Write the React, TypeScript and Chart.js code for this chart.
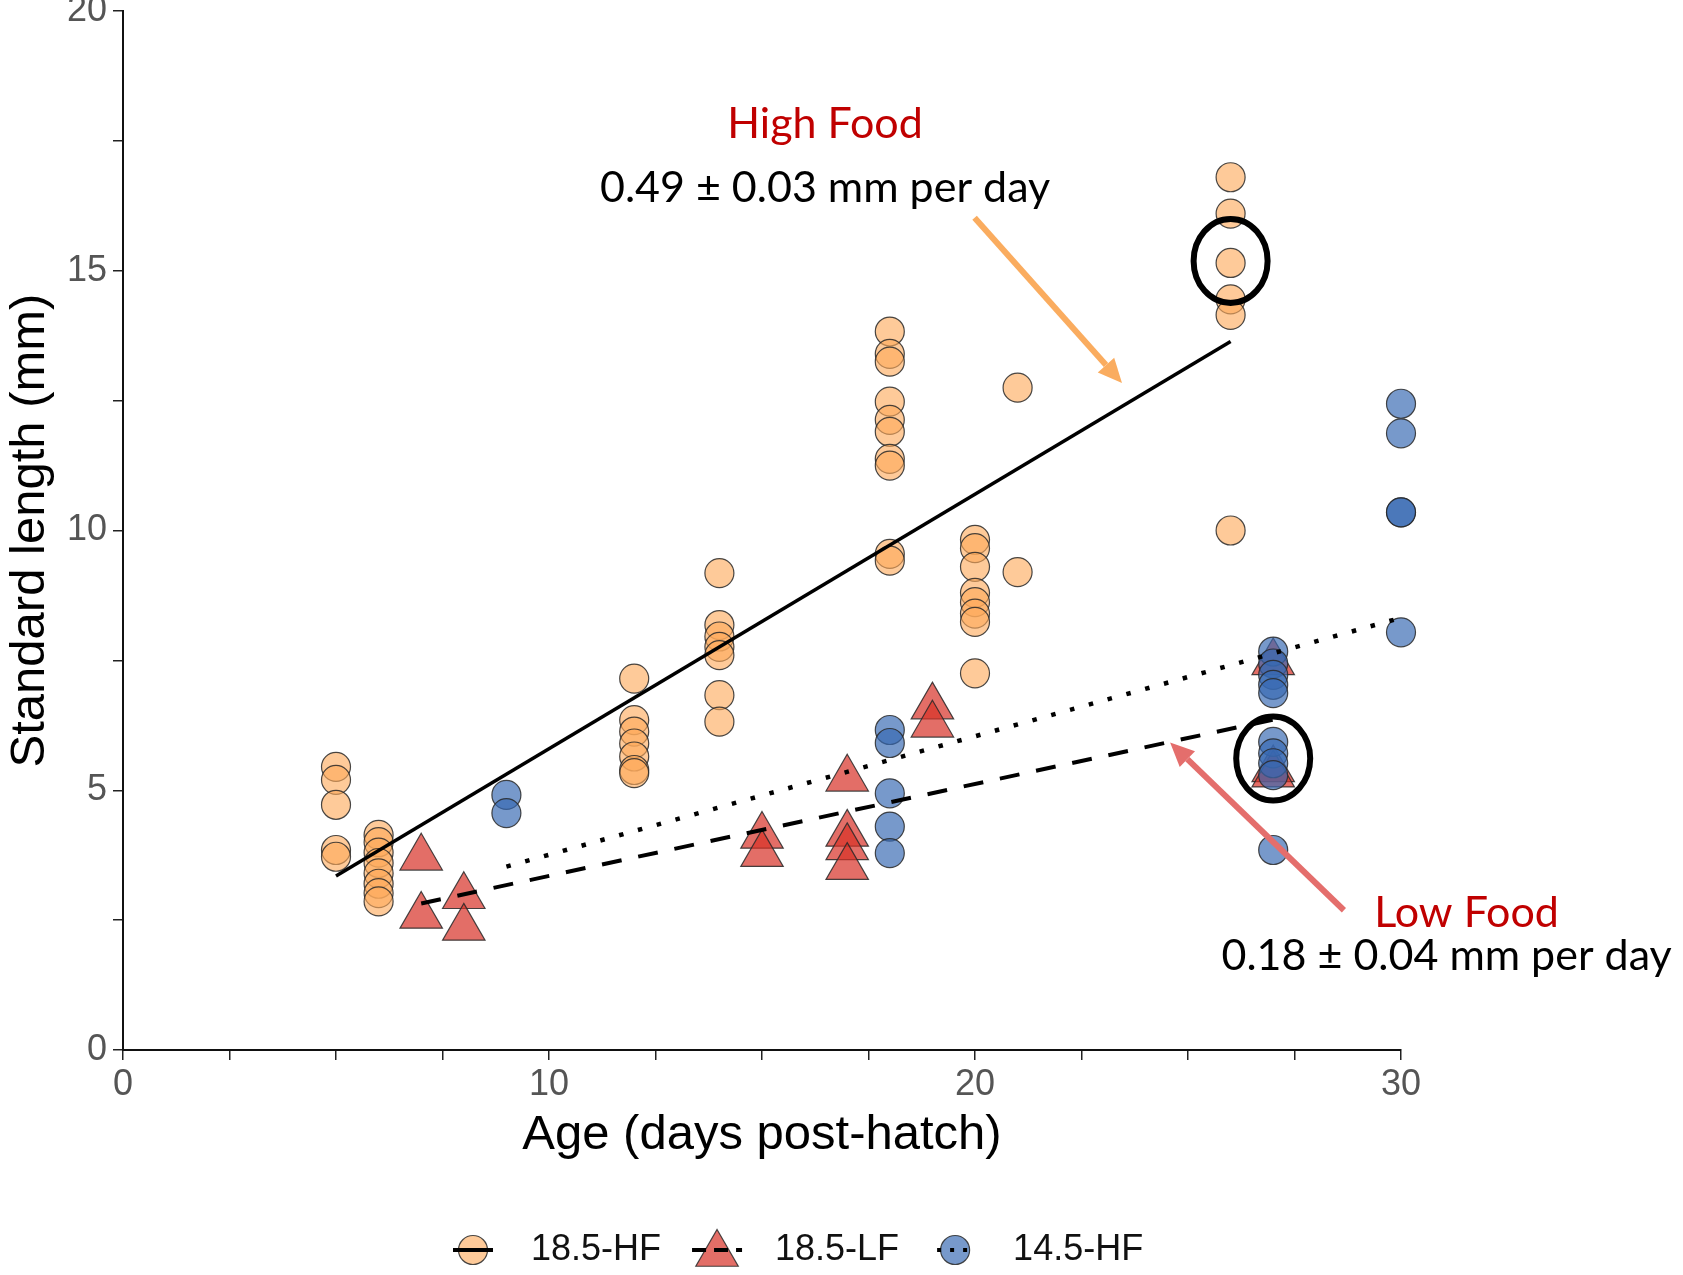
import { useEffect, useRef } from "react";
import { Chart, registerables } from "chart.js";

Chart.register(...registerables);

// Standard length (mm) of each fish, grouped by age (days post-hatch)
const hf185Ages = [5, 6, 12, 14, 18, 20, 21, 26];
const hf185Lengths = [
  [5.45, 5.2, 4.72, 3.85, 3.72],
  [4.14, 4.0, 3.8, 3.6, 3.4, 3.2, 3.02, 2.86],
  [7.15, 6.35, 6.13, 5.9, 5.65, 5.39, 5.33],
  [9.18, 8.18, 7.96, 7.76, 7.6, 6.83, 6.32],
  [13.83, 13.4, 13.25, 12.48, 12.13, 11.9, 11.38, 11.25, 9.55, 9.42],
  [9.82, 9.66, 9.3, 8.8, 8.62, 8.4, 8.24, 7.25],
  [12.75, 9.2],
  [16.8, 16.1, 15.15, 14.45, 14.15, 10.0],
];

const lf185Ages = [7, 8, 15, 17, 19, 27];
const lf185Lengths = [
  [3.7, 2.58],
  [2.96, 2.35],
  [4.12, 3.77],
  [5.22, 4.16, 3.9, 3.52],
  [6.61, 6.26],
  [7.46, 5.4, 5.3],
];

const hf145Ages = [9, 18, 27, 30];
const hf145Lengths = [
  [4.91, 4.56],
  [6.16, 5.91, 4.94, 4.3, 3.79],
  [7.67, 7.44, 7.22, 7.03, 6.87, 5.93, 5.71, 5.52, 5.29, 3.85],
  [12.44, 11.87, 10.35, 10.35, 8.04],
];

// Linear growth fits (end points)
const hf185FitAges = [5, 26];
const hf185FitLengths = [3.35, 13.64];
const lf185FitAges = [7, 27];
const lf185FitLengths = [2.82, 6.36];
const hf145FitAges = [9, 30];
const hf145FitLengths = [3.53, 8.32];

const seriesLabels = ["18.5-HF", "18.5-LF", "14.5-HF"];
const xTickLabels = [0, 10, 20, 30];
const yTickLabels = [0, 5, 10, 15, 20];

// Call-out texts and their anchors, in (age, length) units
const highFoodTitle = "High Food";
const highFoodRate = "0.49 ± 0.03 mm per day";
const lowFoodTitle = "Low Food";
const lowFoodRate = "0.18 ± 0.04 mm per day";
const highFoodTextAt = [16.48, 17.56, 16.33]; // x centre, title baseline, rate baseline
const lowFoodTitleAt = [31.54, 2.37];
const lowFoodRateAt = [31.07, 1.54];
const highFoodArrow = [19.99, 16.02, 23.45, 12.84]; // from x,y -> tip x,y
const lowFoodArrow = [28.66, 2.69, 24.58, 5.92];
const ringCentres = [
  [26, 15.19],
  [27, 5.61],
];

const ORANGE = "rgba(253,170,90,0.62)";
const RED = "rgba(215,48,39,0.7)";
const BLUE = "rgba(55,105,178,0.68)";
const EDGE = "rgba(40,40,40,0.85)";
const AXIS_FONT = "'Liberation Sans', Arial, sans-serif";
const NOTE_FONT = "Lato, 'Open Sans', sans-serif";

const toPoints = (ages: number[], lengths: number[][]) =>
  ages.flatMap((a, i) => lengths[i].map((l) => ({ x: a, y: l })));

const toLine = (ages: number[], lengths: number[]) =>
  ages.map((a, i) => ({ x: a, y: lengths[i] }));

function drawTriangle(ctx: CanvasRenderingContext2D, x: number, y: number, r: number) {
  const s = Math.sin((2 * Math.PI) / 3) * r;
  ctx.beginPath();
  ctx.moveTo(x, y - r);
  ctx.lineTo(x + s, y + r / 2);
  ctx.lineTo(x - s, y + r / 2);
  ctx.closePath();
}

function drawArrow(
  ctx: CanvasRenderingContext2D,
  x0: number,
  y0: number,
  x1: number,
  y1: number,
  color: string
) {
  const ang = Math.atan2(y1 - y0, x1 - x0);
  const head = 24;
  const half = 11;
  const bx = x1 - Math.cos(ang) * head;
  const by = y1 - Math.sin(ang) * head;
  ctx.save();
  ctx.strokeStyle = color;
  ctx.fillStyle = color;
  ctx.lineWidth = 6;
  ctx.lineCap = "butt";
  ctx.beginPath();
  ctx.moveTo(x0, y0);
  ctx.lineTo(bx, by);
  ctx.stroke();
  ctx.beginPath();
  ctx.moveTo(x1, y1);
  ctx.lineTo(bx + Math.sin(ang) * half, by - Math.cos(ang) * half);
  ctx.lineTo(bx - Math.sin(ang) * half, by + Math.cos(ang) * half);
  ctx.closePath();
  ctx.fill();
  ctx.restore();
}

const whiteBackground = {
  id: "whiteBackground",
  beforeDraw(chart: any) {
    const { ctx, width, height } = chart;
    ctx.save();
    ctx.fillStyle = "#fff";
    ctx.fillRect(0, 0, width, height);
    ctx.restore();
  },
};

const callouts = {
  id: "callouts",
  afterDatasetsDraw(chart: any) {
    const { ctx, scales } = chart;
    const px = (v: number) => scales.x.getPixelForValue(v);
    const py = (v: number) => scales.y.getPixelForValue(v);

    ctx.save();
    ctx.strokeStyle = "#000";
    ctx.lineWidth = 6;
    ringCentres.forEach(([a, l]) => {
      ctx.beginPath();
      ctx.ellipse(px(a), py(l), 37, 42, 0, 0, Math.PI * 2);
      ctx.stroke();
    });

    drawArrow(ctx, px(highFoodArrow[0]), py(highFoodArrow[1]), px(highFoodArrow[2]), py(highFoodArrow[3]), "rgb(250,172,95)");
    drawArrow(ctx, px(lowFoodArrow[0]), py(lowFoodArrow[1]), px(lowFoodArrow[2]), py(lowFoodArrow[3]), "rgb(228,110,108)");

    ctx.textAlign = "center";
    ctx.textBaseline = "alphabetic";
    ctx.font = `43px ${NOTE_FONT}`;
    ctx.fillStyle = "#c00000";
    ctx.fillText(highFoodTitle, px(highFoodTextAt[0]), py(highFoodTextAt[1]));
    ctx.fillText(lowFoodTitle, px(lowFoodTitleAt[0]), py(lowFoodTitleAt[1]));
    ctx.fillStyle = "#000";
    ctx.fillText(highFoodRate, px(highFoodTextAt[0]), py(highFoodTextAt[2]));
    ctx.fillText(lowFoodRate, px(lowFoodRateAt[0]), py(lowFoodRateAt[1]));
    ctx.restore();
  },
};

const keyLegend = {
  id: "keyLegend",
  afterDraw(chart: any) {
    const { ctx, chartArea } = chart;
    const y = chartArea.bottom + 200;
    let x = chartArea.left + 350;
    const keys = [
      { fill: ORANGE, shape: "circle", dash: [] as number[], half: 20 },
      { fill: RED, shape: "triangle", dash: [14, 8], half: 25 },
      { fill: BLUE, shape: "circle", dash: [4, 9], half: 18 },
    ];
    ctx.save();
    ctx.font = `36px ${AXIS_FONT}`;
    ctx.textBaseline = "middle";
    ctx.textAlign = "left";
    keys.forEach((k, i) => {
      ctx.fillStyle = k.fill;
      ctx.strokeStyle = EDGE;
      ctx.lineWidth = 1.2;
      ctx.setLineDash([]);
      if (k.shape === "circle") {
        ctx.beginPath();
        ctx.arc(x, y, 14.5, 0, Math.PI * 2);
      } else {
        drawTriangle(ctx, x, y + 4, 24.5);
      }
      ctx.fill();
      ctx.stroke();
      ctx.strokeStyle = "#000";
      ctx.lineWidth = 4;
      ctx.setLineDash(k.dash);
      ctx.beginPath();
      ctx.moveTo(x - k.half, y);
      ctx.lineTo(x + k.half, y);
      ctx.stroke();
      ctx.setLineDash([]);
      ctx.fillStyle = "#111";
      const tx = x + 58;
      ctx.fillText(seriesLabels[i], tx, y);
      x = tx + ctx.measureText(seriesLabels[i]).width + 56;
    });
    ctx.restore();
  },
};

export default function App() {
  const canvasRef = useRef<HTMLCanvasElement | null>(null);

  useEffect(() => {
    const canvas = canvasRef.current;
    if (!canvas) return;

    const chart = new Chart(canvas, {
      type: "scatter",
      data: {
        datasets: [
          {
            label: seriesLabels[0] + " fit",
            data: toLine(hf185FitAges, hf185FitLengths),
            showLine: true,
            borderColor: "#000",
            borderWidth: 3.5,
            pointRadius: 0,
            order: 0,
            clip: false,
          },
          {
            label: seriesLabels[1] + " fit",
            data: toLine(lf185FitAges, lf185FitLengths),
            showLine: true,
            borderColor: "#000",
            borderWidth: 4,
            borderDash: [20, 17],
            pointRadius: 0,
            order: 0,
            clip: false,
          },
          {
            label: seriesLabels[2] + " fit",
            data: toLine(hf145FitAges, hf145FitLengths),
            showLine: true,
            borderColor: "#000",
            borderWidth: 4.5,
            borderDash: [4.5, 15],
            pointRadius: 0,
            order: 0,
            clip: false,
          },
          {
            label: seriesLabels[2],
            data: toPoints(hf145Ages, hf145Lengths),
            pointStyle: "circle",
            pointRadius: 14.5,
            pointBorderWidth: 1.2,
            pointBackgroundColor: BLUE,
            pointBorderColor: EDGE,
            order: 1,
            clip: false,
          },
          {
            label: seriesLabels[1],
            data: toPoints(lf185Ages, lf185Lengths),
            pointStyle: "triangle",
            pointRadius: 24.5,
            pointBorderWidth: 1.2,
            pointBackgroundColor: RED,
            pointBorderColor: EDGE,
            order: 2,
            clip: false,
          },
          {
            label: seriesLabels[0],
            data: toPoints(hf185Ages, hf185Lengths),
            pointStyle: "circle",
            pointRadius: 14.5,
            pointBorderWidth: 1.2,
            pointBackgroundColor: ORANGE,
            pointBorderColor: EDGE,
            order: 3,
            clip: false,
          },
        ],
      },
      options: {
        responsive: false,
        animation: false,
        events: [],
        layout: { autoPadding: false, padding: { left: 0, right: 282, top: 11, bottom: 110 } },
        plugins: {
          legend: { display: false },
          tooltip: { enabled: false },
        },
        scales: {
          x: {
            type: "linear",
            min: 0,
            max: 30,
            ticks: {
              stepSize: 2.5,
              autoSkip: false,
              maxRotation: 0,
              padding: 3,
              color: "#555",
              font: { family: AXIS_FONT, size: 36 },
              callback: (v: any) => (xTickLabels.includes(Number(v)) ? String(v) : ""),
            },
            grid: { drawOnChartArea: false, drawTicks: true, tickLength: 10, color: "#222", lineWidth: 1.5 },
            border: { color: "#111", width: 2 },
            title: {
              display: true,
              text: "Age (days post-hatch)",
              color: "#000",
              font: { family: AXIS_FONT, size: 49 },
              padding: { top: 0, bottom: 0 },
            },
            afterFit: (s: any) => {
              s.height = 115;
            },
          },
          y: {
            type: "linear",
            min: 0,
            max: 20,
            ticks: {
              stepSize: 2.5,
              autoSkip: false,
              padding: 6,
              color: "#555",
              font: { family: AXIS_FONT, size: 36 },
              callback: (v: any) => (yTickLabels.includes(Number(v)) ? String(v) : ""),
            },
            grid: { drawOnChartArea: false, drawTicks: true, tickLength: 10, color: "#222", lineWidth: 1.5 },
            border: { color: "#111", width: 2 },
            title: {
              display: true,
              text: "Standard length (mm)",
              color: "#000",
              font: { family: AXIS_FONT, size: 49 },
              padding: { top: 1, bottom: 0 },
            },
            afterFit: (s: any) => {
              s.width = 123;
              s.paddingTop = 0;
              s.paddingBottom = 0;
            },
          },
        },
      },
      plugins: [whiteBackground, callouts, keyLegend],
    } as any);

    return () => chart.destroy();
  }, []);

  return (
    <div style={{ position: "absolute", left: 0, top: 0, width: 1683, height: 1275 }}>
      <canvas ref={canvasRef} width={1683} height={1275} style={{ display: "block" }} />
    </div>
  );
}
